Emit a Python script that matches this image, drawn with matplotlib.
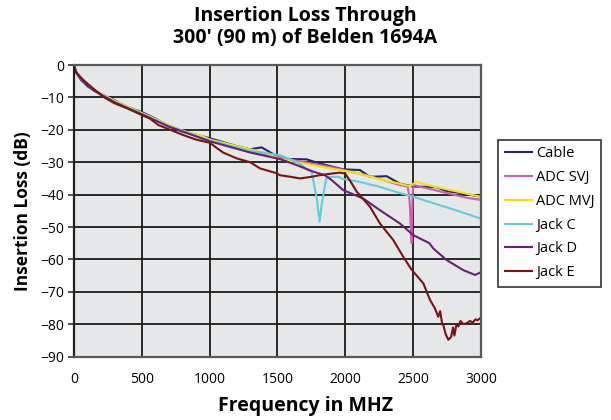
import matplotlib
matplotlib.use("Agg")
import matplotlib.pyplot as plt

# ----------------------------- data -----------------------------
cable_f = [0, 20, 50, 100, 150, 216, 300, 339, 400, 511, 600, 708, 800, 900, 1003, 1100,
           1200, 1298, 1384, 1470, 1518, 1600, 1715, 1800, 1900, 1985, 2108, 2182, 2305,
           2403, 2502, 2600, 2674, 2748, 2850, 2993]
cable_db = [0, -2.5, -4.5, -6.5, -8, -9.3, -10.8, -11.8, -13, -14.7, -16.5, -19, -20.5, -21.5,
            -22.6, -23.8, -25, -26, -25.4, -27.5, -28.8, -29, -29.1, -30.2, -31.3, -32.2, -32.4,
            -34.5, -34.3, -36.6, -37.5, -37.6, -37.7, -38.9, -39.5, -40.6]

svj_f = [0, 20, 100, 216, 300, 500, 700, 1000, 1300, 1518, 1700, 1900, 2000, 2200, 2400,
         2460, 2470, 2478, 2483, 2490, 2495, 2500, 2510, 2540, 2600, 2700, 2800, 2900, 2993]
svj_db = [0, -2.5, -6.5, -9.3, -11, -15, -18.8, -23, -26.5, -28.5, -30, -31.5, -32.5, -34.5,
          -37, -37.5, -40, -44, -50, -55, -42, -38, -37, -37.5, -38, -39, -40, -41, -41.6]

mvj_f = [0, 20, 100, 216, 300, 500, 700, 800, 950, 1000, 1200, 1400, 1518, 1765, 1900, 2085,
         2256, 2400, 2477, 2527, 2600, 2800, 2993]
mvj_db = [0, -2.5, -6.5, -9.3, -11, -14.8, -18.5, -20.3, -22, -23, -25, -27, -29, -30.9, -32,
          -33.3, -35.3, -36.6, -37.4, -36, -37, -38.8, -40.6]

jackc_f = [0, 20, 100, 216, 300, 500, 700, 1000, 1300, 1518, 1650, 1724, 1752, 1790, 1811,
           1830, 1860, 1874, 1950, 1985, 2100, 2256, 2400, 2502, 2600, 2748, 2850, 2993]
jackc_db = [0, -2.5, -6.5, -9.5, -11.3, -15, -18.8, -23.3, -26.5, -27.8, -30, -32.4, -33,
            -41, -48.3, -42, -35, -34.5, -34.5, -35.2, -36, -37.6, -39.5, -40.6, -42, -43.9,
            -45.3, -47.3]

jackd_f = [0, 20, 100, 216, 300, 500, 700, 1000, 1300, 1518, 1650, 1765, 1850, 1900, 1985,
           2133, 2256, 2403, 2502, 2621, 2649, 2748, 2870, 2958, 2993]
jackd_db = [0, -2.5, -6.5, -9.5, -11.5, -15.2, -19, -23.5, -27, -29, -31, -32.9, -34, -35.5,
            -38.6, -41.2, -44.8, -48.9, -52.5, -55, -56.6, -60.2, -63.3, -64.8, -64.1]

jacke_f = [0, 10, 69, 150, 216, 300, 400, 499, 560, 622, 700, 806, 900, 1003, 1050, 1100, 1200,
           1300, 1372, 1495, 1518, 1600, 1665, 1750, 1811, 1900, 1960, 2000, 2040, 2085, 2182,
           2256, 2354, 2428, 2490, 2576, 2625, 2660, 2686, 2700, 2715, 2723, 2740, 2760, 2780,
           2795, 2805, 2820, 2834, 2850, 2870, 2895, 2920, 2940, 2960, 2975, 2993]
jacke_db = [0, -2, -4.6, -7.5, -9.8, -11.8, -13.5, -15.4, -16.5, -18.5, -19.8, -21.6, -23, -24,
            -25.5, -27, -28.8, -30, -31.9, -33.4, -34, -34.5, -35, -34.5, -34, -33.5, -33.2,
            -33.5, -36, -39.1, -43.7, -48.9, -54, -59.2, -63.2, -67.4, -72.5, -75, -77.7, -76,
            -80, -80.2, -83, -84.8, -84, -81, -83.5, -80, -80.7, -79, -80, -79.7, -79, -79.5,
            -78.5, -78.8, -78.2]

series = [
    ("Cable", cable_f, cable_db, "#25246e"),
    ("ADC SVJ", svj_f, svj_db, "#cc5fb0"),
    ("ADC MVJ", mvj_f, mvj_db, "#f3e600"),
    ("Jack C", jackc_f, jackc_db, "#62cbdc"),
    ("Jack D", jackd_f, jackd_db, "#6a1f78"),
    ("Jack E", jacke_f, jacke_db, "#7a1414"),
]

x_ticks = [0, 500, 1000, 1500, 2000, 2500, 3000]
y_ticks = [0, -10, -20, -30, -40, -50, -60, -70, -80, -90]

plt.rcParams["font.family"] = ["Open Sans", "DejaVu Sans"]

fig = plt.figure(figsize=(6.11, 4.2), dpi=100)
ax = fig.add_axes([0.121, 0.151, 0.666, 0.694])
ax.set_facecolor("#e6e7e9")

for name, f, db, color in series:
    ax.plot(f, db, color=color, linewidth=1.5, label=name)

ax.set_xlim(0, 3000)
ax.set_ylim(-90, 0)
ax.set_xticks(x_ticks)
ax.set_yticks(y_ticks)
ax.tick_params(axis="x", length=0, labelsize=10, pad=11)
ax.tick_params(axis="y", length=4, width=1.2, color="#333333", labelsize=10, pad=3)
ax.grid(True, color="#1a1a1a", linewidth=1.3)
ax.set_axisbelow(True)
for spine in ax.spines.values():
    spine.set_color("#5a5a5a")
    spine.set_linewidth(1.6)
ax.spines["left"].set_color("#222222")

ax.set_ylabel("Insertion Loss (dB)", fontsize=12.5, fontweight="bold", labelpad=6)
fig.text(0.5, 1 - 406 / 420, "Frequency in MHZ", fontsize=14, fontweight="bold",
         ha="center", va="center")
fig.text(0.5, 1 - 6 / 420, "Insertion Loss Through\n300' (90 m) of Belden 1694A",
         fontsize=14, fontweight="bold", ha="center", va="top", linespacing=1.15)

leg = fig.legend(loc="upper left", bbox_to_anchor=(0.815, 0.667), fontsize=10.5,
                 frameon=True, fancybox=False, edgecolor="black", handlelength=1.9,
                 handletextpad=0.25, labelspacing=0.6, borderpad=0.45, borderaxespad=0)
leg.get_frame().set_linewidth(1.2)

fig.savefig("out.png", dpi=100)
